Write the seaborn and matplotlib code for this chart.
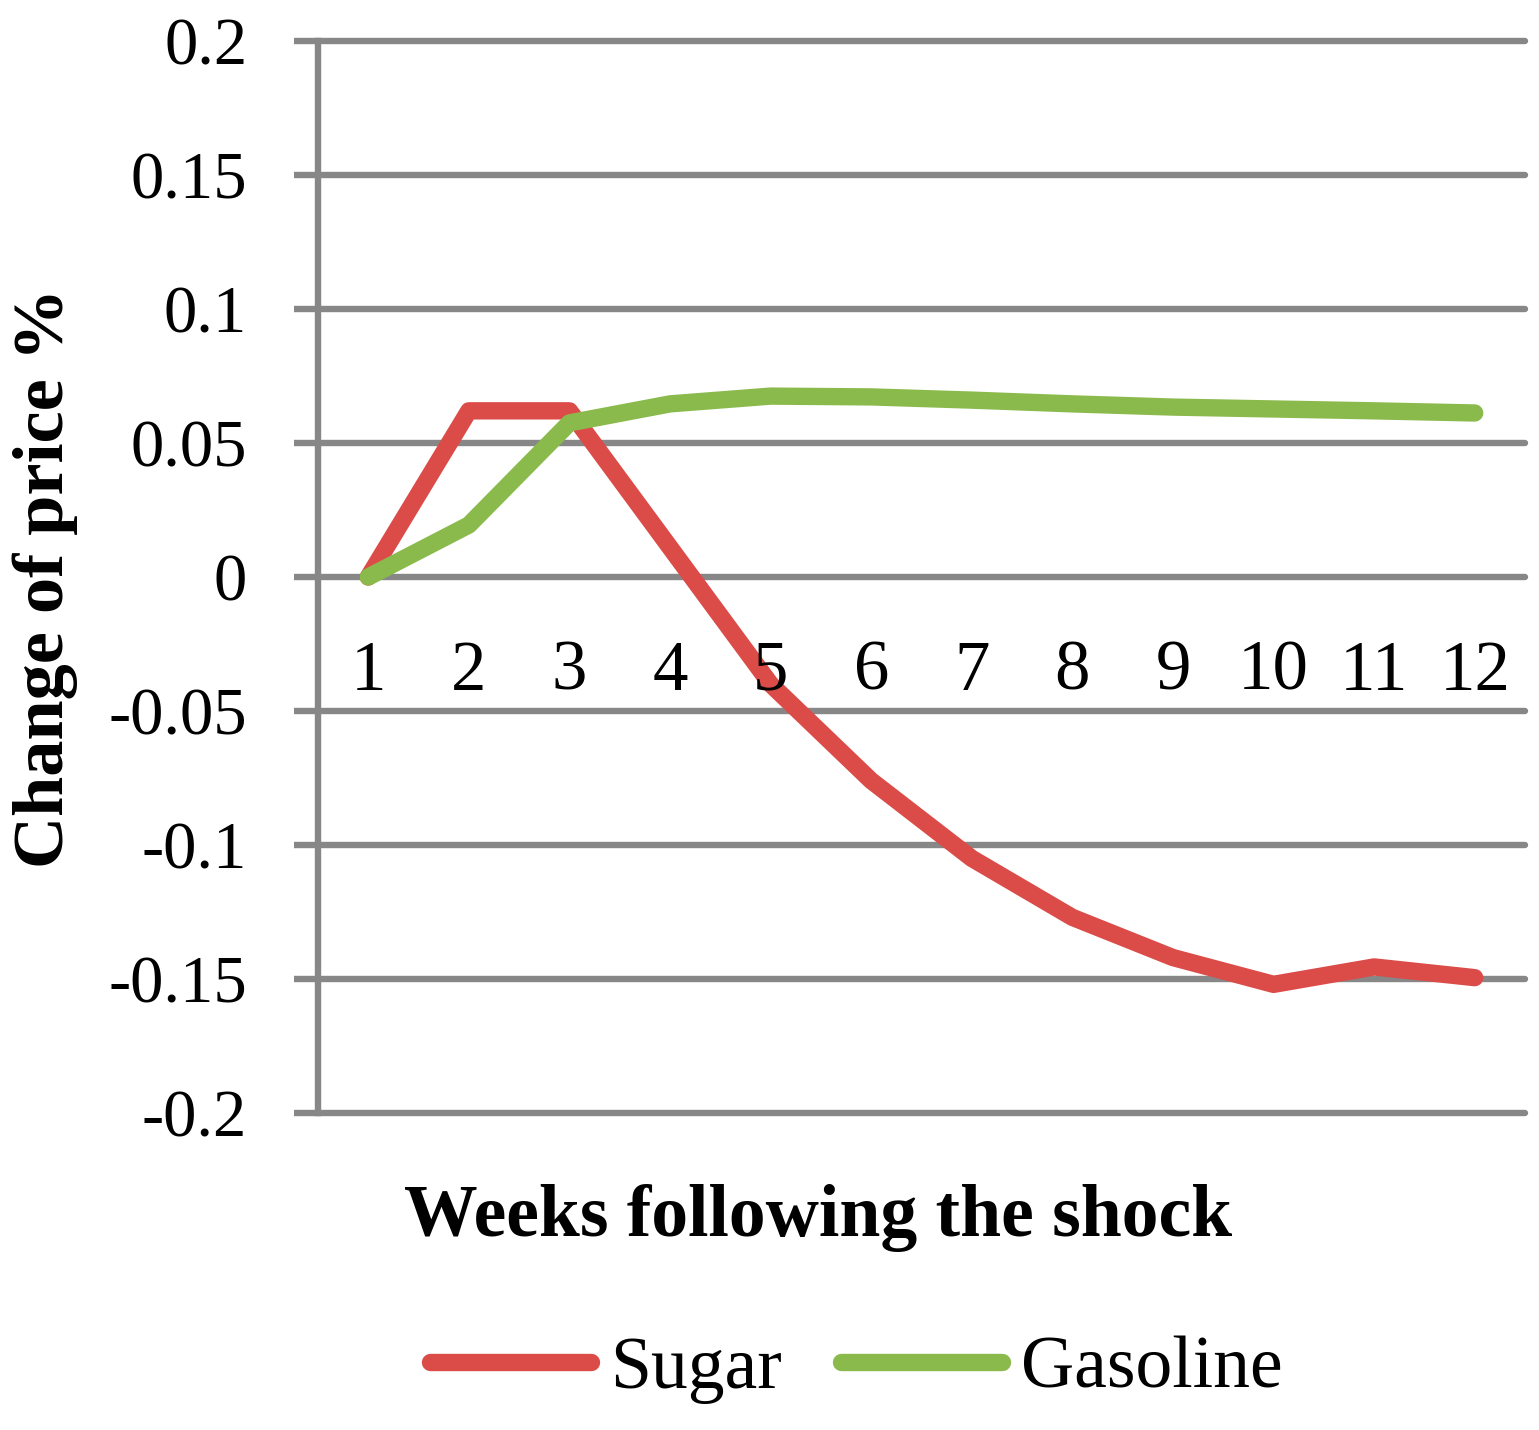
import pandas as pd
import seaborn as sns
import matplotlib as mpl
from matplotlib import pyplot as plt

mpl.use('Agg')

weeks = [1, 2, 3, 4, 5, 6, 7, 8, 9, 10, 11, 12]
sugar = [0.0, 0.062, 0.062, 0.011, -0.040, -0.076, -0.105, -0.127, -0.142, -0.152, -0.1455, -0.1495]
gasoline = [0.0, 0.0194, 0.0575, 0.0646, 0.0675, 0.0672, 0.066, 0.0646, 0.0634, 0.0627, 0.062, 0.0612]
y_ticks = [0.2, 0.15, 0.1, 0.05, 0, -0.05, -0.1, -0.15, -0.2]
y_tick_labels = ['0.2', '0.15', '0.1', '0.05', '0', '-0.05', '-0.1', '-0.15', '-0.2']

df = pd.DataFrame({
    'week': weeks * 2,
    'value': sugar + gasoline,
    'series': ['Sugar'] * len(weeks) + ['Gasoline'] * len(weeks),
})

sns.set_style('white')
plt.rcParams['font.family'] = ['Liberation Serif', 'DejaVu Serif']
plt.rcParams['text.color'] = 'black'
plt.rcParams['axes.labelcolor'] = 'black'
plt.rcParams['ytick.color'] = 'black'

fig = plt.figure(figsize=(15.39, 14.30), dpi=100)
ax = fig.add_axes([318 / 1539, 1 - 1113 / 1430, 1207 / 1539, 1072 / 1430])

grey = '#878787'
palette = {'Sugar': '#DB4B48', 'Gasoline': '#8BBA4C'}
lw_series = 12.5
lw_grid = 4.6

for y in y_ticks:
    ax.axhline(y, color=grey, linewidth=lw_grid, zorder=1, clip_on=False)

sns.lineplot(data=df, x='week', y='value', hue='series', palette=palette,
             ax=ax, linewidth=lw_series, zorder=3, legend=False)
for line in ax.lines[len(y_ticks):]:
    line.set_solid_capstyle('round')
    line.set_solid_joinstyle('round')

ax.set_xlim(0.5, 12.5)
ax.set_ylim(-0.2, 0.2)
for s in ['top', 'right', 'bottom']:
    ax.spines[s].set_visible(False)
ax.spines['left'].set_color(grey)
ax.spines['left'].set_linewidth(lw_grid)
ax.spines['left'].set_zorder(2)

ax.set_yticks(y_ticks)
ax.set_yticklabels(y_tick_labels, fontsize=48)
ax.tick_params(axis='y', left=True, length=17, width=lw_grid, color=grey,
               labelcolor='black', pad=34, direction='out')
ax.set_xticks([])

for w in weeks:
    ax.text(w, -0.0355, str(w), ha='center', va='center', fontsize=51)

ax.set_xlabel('')
ax.set_ylabel('')
fig.text(45 / 1539, 1 - 578 / 1430, 'Change of price %', rotation=90, ha='center',
         va='center', fontsize=52, fontweight='bold')
fig.text(818 / 1539, 1 - 1218 / 1430, 'Weeks following the shock', ha='center',
         va='center', fontsize=53, fontweight='bold')

handles = [plt.Line2D([], [], color=palette[k], linewidth=lw_series, solid_capstyle='round')
           for k in ['Sugar', 'Gasoline']]
fig.legend(handles, ['Sugar', 'Gasoline'], loc='center', bbox_to_anchor=(856 / 1539, 1 - 1370 / 1430),
           ncol=2, frameon=False, fontsize=53, handlelength=2.2, handletextpad=0.25,
           columnspacing=0.8)

plt.savefig('out.png', dpi=100)
